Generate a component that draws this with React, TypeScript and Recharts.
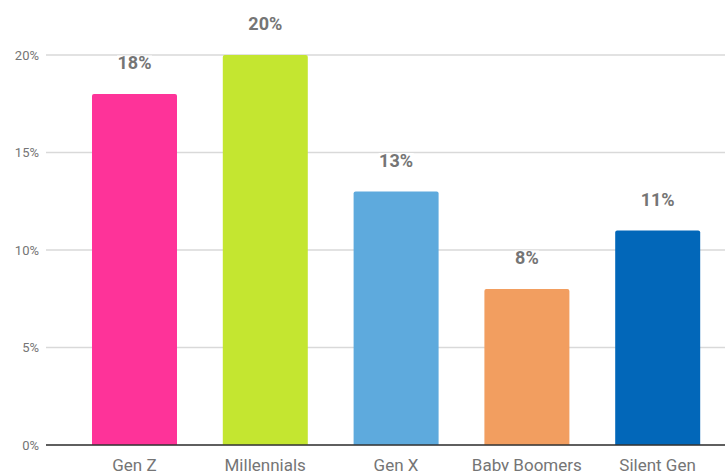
import React from "react";
import { BarChart, Bar, XAxis, YAxis, CartesianGrid, Cell, LabelList } from "recharts";

const categories = ["Gen Z", "Millennials", "Gen X", "Baby Boomers", "Silent Gen"];
const values = [18, 20, 13, 8, 11];
const colors = ["#fe3399", "#c4e630", "#5eaadd", "#f29e60", "#0267b9"];
const yTicks = [0, 5, 10, 15, 20];

const data = categories.map((name, i) => ({ name, value: values[i] }));

const ValueLabel = (props: any) => {
  const { x, y, width, value } = props;
  const cx = x + width / 2;
  const cy = y - 31.5;
  const text = `${value}%`;
  const w = text.length * 11 + 2;
  return (
    <g>
      <rect x={cx - w / 2} y={cy - 7} width={w} height={14} fill="#ffffff" />
      <text
        x={cx}
        y={cy}
        textAnchor="middle"
        dominantBaseline="central"
        fontSize={18}
        fontWeight="bold"
        fill="#757575"
        fontFamily="Roboto"
      >
        {text}
      </text>
    </g>
  );
};

export default function App() {
  return (
    <div style={{ position: "absolute", left: 0, top: 0, width: 725, height: 471, background: "#fff", overflow: "hidden" }}>
      <BarChart
        width={725}
        height={471}
        data={data}
        margin={{ top: 55, right: 0, bottom: 0, left: 0 }}
        barSize={85}
      >
        <CartesianGrid vertical={false} stroke="#d9d9d9" strokeWidth={1.5} />
        <XAxis
          dataKey="name"
          height={26}
          tickLine={false}
          axisLine={{ stroke: "#333333", strokeWidth: 1.5 }}
          tickSize={0}
          tickMargin={14}
          padding={{ left: 23, right: 2 }}
          tick={{ fill: "#757575", fontSize: 17, fontFamily: "Roboto" }}
          interval={0}
        />
        <YAxis
          width={46}
          domain={[0, 20]}
          ticks={yTicks}
          axisLine={false}
          tickLine={false}
          tickSize={0}
          tickMargin={7}
          tickFormatter={(v: number) => `${v}%`}
          tick={{ fill: "#757575", fontSize: 13, fontFamily: "Roboto" }}
        />
        <Bar dataKey="value" isAnimationActive={false} radius={[2, 2, 0, 0]}>
          {data.map((d, i) => (
            <Cell key={d.name} fill={colors[i]} />
          ))}
          <LabelList dataKey="value" content={ValueLabel} />
        </Bar>
      </BarChart>
    </div>
  );
}
